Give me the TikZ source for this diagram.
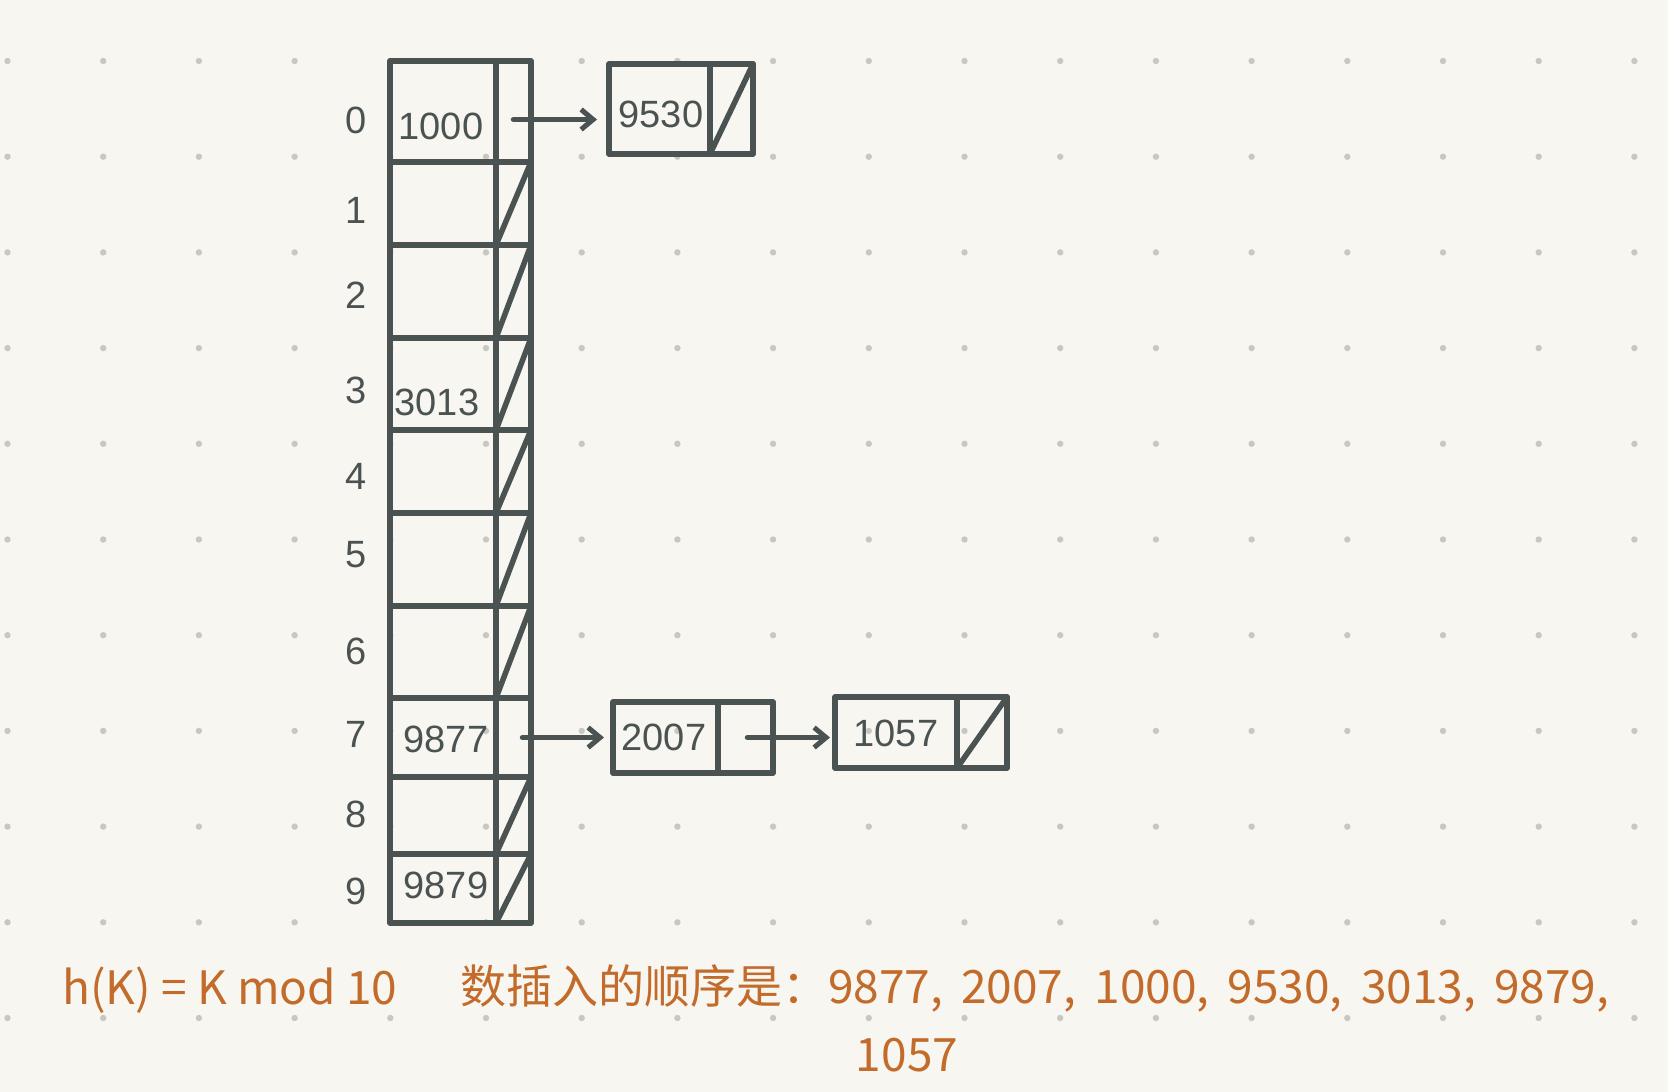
\documentclass[tikz,border=0pt]{standalone}
\usepackage{fontspec}
\setmainfont{Liberation Sans}
\newfontfamily\cjk{Noto Sans CJK SC}
\usetikzlibrary{arrows.meta}
\definecolor{bgc}{HTML}{F7F6F0}
\definecolor{dotc}{HTML}{C9C7C1}
\definecolor{inkc}{HTML}{4A5352}
\definecolor{orc}{HTML}{C26B2B}
\begin{document}
\begin{tikzpicture}[x=1pt,y=-1pt,
  ink/.style={draw=inkc,line width=5.5pt,line cap=round,line join=round},
  cellbox/.style={ink,rectangle,inner sep=0pt,outer sep=0pt,anchor=north west},
  val/.style={text=inkc,font=\fontsize{38}{38}\selectfont,inner sep=0pt},
  idx/.style={text=inkc,font=\fontsize{38}{38}\selectfont,inner sep=0pt},
  note/.style={text=orc,font=\cjk\fontsize{46}{46}\selectfont,inner sep=0pt},
  arr/.style={ink,-{Straight Barb[length=12pt,width=20pt,line width=5pt]}}]
\fill[bgc] (0,0) rectangle (1668,1092);
\useasboundingbox (0,0) rectangle (1668,1092);
% dot grid
\foreach \c in {0,...,17}{
  \foreach \r in {0,...,10}{
    \fill[dotc] ({7.5+95.7*\c},{61+95.7*\r}) circle (3.2pt);
  }
}
% table rows
\foreach \i/\t/\b in {0/61/162,1/162/245,2/245/338,3/338/430,4/430/513,5/513/606,6/606/698,7/698/777,8/777/854,9/854/923}{
  \pgfmathsetmacro\h{\b-\t}
  \node[cellbox,minimum width=106pt,minimum height=\h pt] (k\i) at (390,\t) {};
  \node[cellbox,minimum width=35pt,minimum height=\h pt] (p\i) at (496,\t) {};
}
\foreach \i in {1,2,3,4,5,6,8,9}{
  \draw[ink] (p\i.south west) -- (p\i.north east);
}
% index labels
\node[idx] (i0) at (356,120) {0};
\node[idx] (i1) at (356,210) {1};
\node[idx] (i2) at (356,295) {2};
\node[idx] (i3) at (356,390) {3};
\node[idx] (i4) at (356,476) {4};
\node[idx] (i5) at (356,555) {5};
\node[idx] (i6) at (356,651) {6};
\node[idx] (i7) at (356,734) {7};
\node[idx] (i8) at (356,814) {8};
\node[idx] (i9) at (356,891) {9};
% values in table
\node[val] (v0) at (441,126) {1000};
\node[val] (v3) at (437,402) {3013};
\node[val] (v7) at (446,739) {9877};
\node[val] (v9) at (446,885) {9879};
% chain nodes
\node[cellbox,minimum width=101pt,minimum height=90pt] (a1) at (609,64) {};
\node[cellbox,minimum width=43pt,minimum height=90pt] (a1p) at (710,64) {};
\node[val] (a1t) at (661,114) {9530};
\draw[ink] (a1p.south west) -- (a1p.north east);

\node[cellbox,minimum width=105pt,minimum height=71pt] (b1) at (613,702) {};
\node[cellbox,minimum width=55pt,minimum height=71pt] (b1p) at (718,702) {};
\node[val] (b1t) at (664,737) {2007};

\node[cellbox,minimum width=122pt,minimum height=71pt] (c1) at (835,697) {};
\node[cellbox,minimum width=50pt,minimum height=71pt] (c1p) at (957,697) {};
\node[val] (c1t) at (896,733) {1057};
\draw[ink] (c1p.south west) -- (c1p.north east);
% arrows
\draw[arr,shorten >=12pt] ([yshift=-8pt]p0.center) -- ([yshift=-8pt]p0.center -| a1.west);
\draw[arr,shorten <=9pt,shorten >=9pt] (p7.center) -- (p7.center -| b1.west);
\draw[arr,shorten <=2pt,shorten >=5pt] (b1p.center) -- (b1p.center -| c1.west);
% notes
\node[note,anchor=west] (hk) at (62,990) {h(K) = K mod 10};
\node[note,anchor=west] (seq) at (460,988) {数插入的顺序是：9877,\hspace{8pt} 2007,\hspace{8pt} 1000,\hspace{8pt} 9530,\hspace{8pt} 3013,\hspace{8pt} 9879,};
\node[note] (last) at (907,1055) {1057};
\end{tikzpicture}
\end{document}
